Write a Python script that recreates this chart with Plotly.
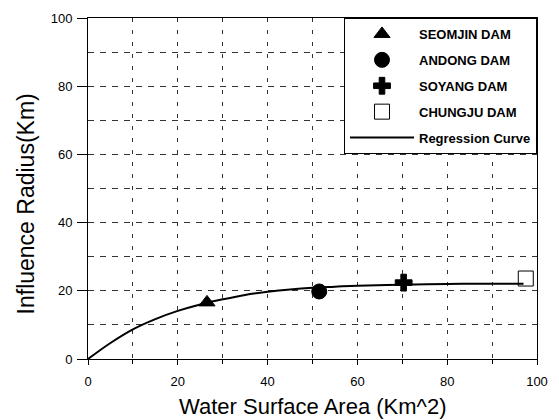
import plotly.graph_objects as go

# Observed dams
dam_names = ["SEOMJIN DAM", "ANDONG DAM", "SOYANG DAM", "CHUNGJU DAM"]
dam_area = [26.5, 51.5, 70.3, 97.5]
dam_radius = [16.6, 19.8, 22.4, 23.6]
dam_symbols = ["triangle-up", "circle", "cross", "square-open"]
dam_sizes = [14, 15, 14, 15]

# Regression curve
curve_x = [0, 5, 10, 15, 20, 25, 30, 35, 40, 45, 50, 55, 60, 70, 80, 90, 97]
curve_y = [0, 4.7, 8.7, 11.7, 14.1, 16.0, 17.5, 18.8, 19.7, 20.4, 20.9, 21.2, 21.5, 21.8, 22.0, 22.1, 22.1]

FONT = "Arial, Liberation Sans, sans-serif"

fig = go.Figure()
for i, name in enumerate(dam_names):
    fig.add_trace(go.Scatter(
        x=[dam_area[i]], y=[dam_radius[i]], mode="markers", name=name,
        legendgroup=name,
        marker=dict(symbol=dam_symbols[i], size=dam_sizes[i], color="black",
                    line=dict(color="black", width=1)),
    ))
fig.add_trace(go.Scatter(
    x=curve_x, y=curve_y, mode="lines", name="Regression Curve",
    legendgroup="reg", line=dict(color="black", width=2, shape="spline"),
))

axis_common = dict(
    range=[0, 100], dtick=20, tick0=0,
    showline=True, linecolor="black", linewidth=1, mirror=True,
    ticks="outside", tickcolor="black",
    showgrid=True, gridcolor="#333", gridwidth=1,
    zeroline=False,
    tickfont=dict(family=FONT, size=13, color="black"),
)

fig.update_xaxes(**axis_common, ticklen=5, ticklabelstandoff=5,
                 griddash="4px,8px",
                 minor=dict(dtick=10, showgrid=True, gridcolor="#333", gridwidth=1,
                            griddash="4px,8px", ticks="outside", ticklen=4, tickcolor="black"))
fig.update_yaxes(**axis_common, ticklen=10, ticklabelstandoff=2,
                 griddash="6px,6px",
                 minor=dict(dtick=10, showgrid=True, gridcolor="#333", gridwidth=1,
                            griddash="6px,6px"))

fig.update_layout(
    width=559, height=420,
    margin=dict(l=88, r=17, t=11, b=61),
    plot_bgcolor="white", paper_bgcolor="white",
    font=dict(family=FONT, color="black"),
    legend=dict(
        x=1, xanchor="right", y=1, yanchor="top",
        bgcolor="white", bordercolor="black", borderwidth=1,
        font=dict(family=FONT, size=13, color="black", weight="bold"),
        tracegroupgap=6, itemwidth=64,
    ),
    annotations=[
        dict(text="Water Surface Area (Km^2)", xref="paper", yref="paper",
             x=0.5, y=-0.138, xanchor="center", yanchor="middle", showarrow=False,
             font=dict(family=FONT, size=22, color="black")),
        dict(text="Influence Radius(Km)", xref="paper", yref="paper",
             x=-0.139, y=0.455, xanchor="center", yanchor="middle", showarrow=False,
             textangle=-90, font=dict(family=FONT, size=23, color="black")),
    ],
)

fig.write_html("out.html")
